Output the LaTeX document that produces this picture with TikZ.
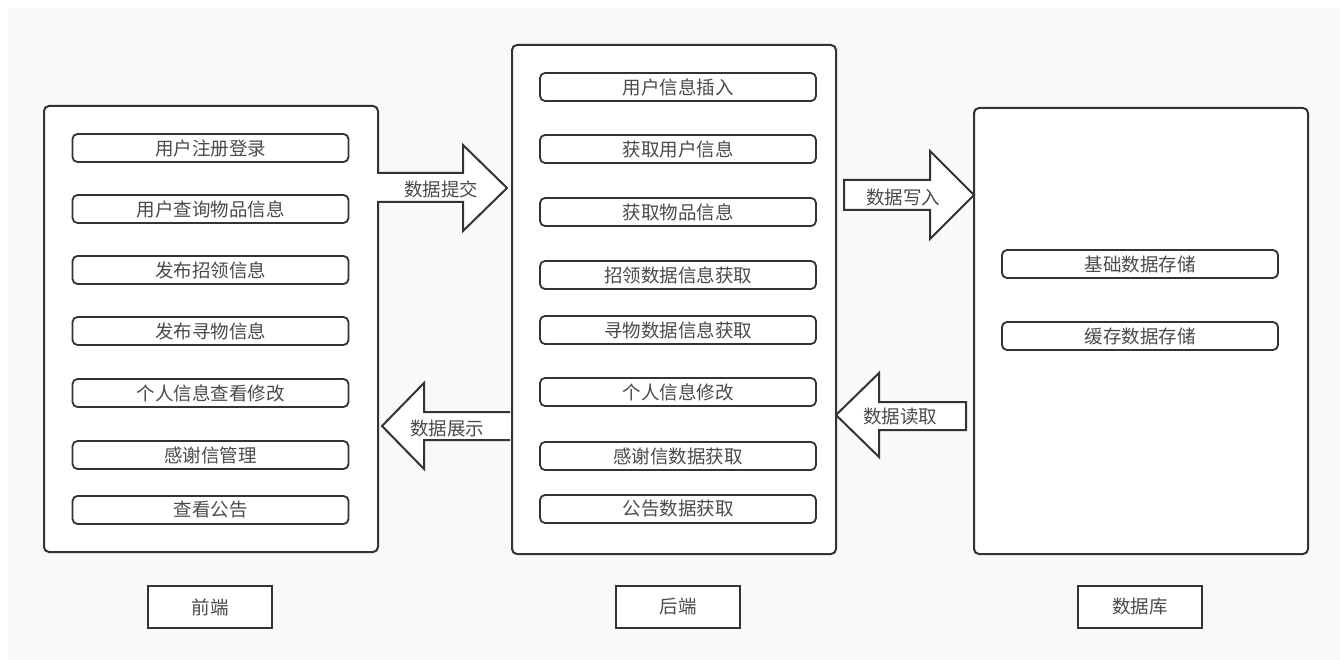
\documentclass[tikz,border=0pt]{standalone}
\usepackage{fontspec}
\setmainfont{Noto Sans CJK SC}
\usetikzlibrary{positioning}
\definecolor{ink}{HTML}{333333}
\definecolor{txt}{HTML}{4A4A4A}
\definecolor{paper}{HTML}{F9F9F9}
\tikzset{
  panel/.style={draw=ink, line width=2pt, rounded corners=5pt, fill=white,
    anchor=north west, inner sep=0pt},
  item/.style={draw=ink, line width=1.8pt, rounded corners=5pt, fill=white,
    minimum width=276pt, minimum height=28pt, inner sep=0pt,
    font=\fontsize{18.5}{20}\selectfont, text=txt},
  tag/.style={draw=ink, line width=2.6pt, fill=white,
    minimum width=124pt, minimum height=42pt, inner sep=0pt,
    font=\fontsize{18.5}{20}\selectfont, text=txt},
  blockarrow/.style={draw=ink, line width=2pt, fill=white, line join=miter},
  arrowtext/.style={font=\fontsize{18.5}{20}\selectfont, text=txt, inner sep=0pt},
}
\begin{document}
\begin{tikzpicture}[x=1pt, y=-1pt]
  % canvas
  \useasboundingbox (0,0) rectangle (1340,660);
  \fill[white] (0,0) rectangle (1340,660);
  \fill[paper] (8,8) rectangle (1340,660);

  % three columns
  \node[panel, minimum width=334pt, minimum height=446pt] (front) at (43,105) {};
  \node[panel, minimum width=324pt, minimum height=509pt] (back) at (511,44) {};
  \node[panel, minimum width=334pt, minimum height=446pt] (db) at (973,107) {};

  % front-end functions
  \node[item] (f1) at (210.5,148) {用户注册登录};
  \node[item] (f2) at (210.5,209) {用户查询物品信息};
  \node[item] (f3) at (210.5,270) {发布招领信息};
  \node[item] (f4) at (210.5,331) {发布寻物信息};
  \node[item] (f5) at (210.5,393) {个人信息查看修改};
  \node[item] (f6) at (210.5,455) {感谢信管理};
  \node[item] (f7) at (210.5,510) {查看公告};

  % back-end services
  \node[item] (b1) at (678,87) {用户信息插入};
  \node[item] (b2) at (678,149) {获取用户信息};
  \node[item] (b3) at (678,212) {获取物品信息};
  \node[item] (b4) at (678,275) {招领数据信息获取};
  \node[item] (b5) at (678,330) {寻物数据信息获取};
  \node[item] (b6) at (678,392) {个人信息修改};
  \node[item] (b7) at (678,456) {感谢信数据获取};
  \node[item] (b8) at (678,509) {公告数据获取};

  % storage
  \node[item] (d1) at (1140,264) {基础数据存储};
  \node[item] (d2) at (1140,336) {缓存数据存储};

  % column captions
  \node[tag] (tf) at (210,607) {前端};
  \node[tag] (tb) at (678,607) {后端};
  \node[tag] (td) at (1140,607) {数据库};

  % block arrows between columns
  \draw[blockarrow] (377,173) -- (463,173) -- (463,145) -- (507,188)
    -- (463,231) -- (463,202) -- (377,202);
  \node[arrowtext] (a1) at (441,189) {数据提交};

  \draw[blockarrow] (510,412) -- (424,412) -- (424,383) -- (382,426)
    -- (424,469) -- (424,440) -- (510,440);
  \node[arrowtext] (a2) at (447,428) {数据展示};

  \draw[blockarrow] (844,180) -- (930,180) -- (930,151) -- (974,195)
    -- (930,239) -- (930,210) -- (844,210) -- cycle;
  \node[arrowtext] (a3) at (903,197) {数据写入};

  \draw[blockarrow] (966,402) -- (879,402) -- (879,373) -- (836,415)
    -- (879,457) -- (879,430) -- (966,430) -- cycle;
  \node[arrowtext] (a4) at (900,417) {数据读取};
\end{tikzpicture}
\end{document}
